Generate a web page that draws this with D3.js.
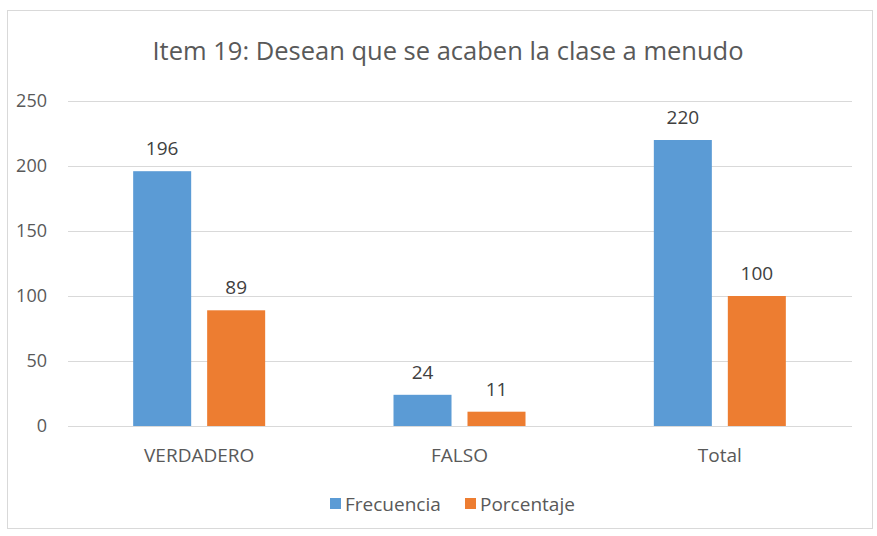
<!DOCTYPE html>
<html>
<head>
<meta charset="utf-8">
<script src="https://cdn.jsdelivr.net/npm/d3@7"></script>
<style>
body { margin: 0; background: #fff; }
text { font-family: "Open Sans", "Noto Sans", sans-serif; }
</style>
</head>
<body>
<svg width="877" height="536"></svg>
<script>
var svg = d3.select("svg"),
	width = +svg.attr("width"),
	height = +svg.attr("height")

const title = "Item 19: Desean que se acaben la clase a menudo"
const categories = ["VERDADERO", "FALSO", "Total"]
const seriesNames = ["Frecuencia", "Porcentaje"]
const frecuencia = [196, 24, 220]
const porcentaje = [89, 11, 100]
const yTicks = [0, 50, 100, 150, 200, 250]
const colors = ["#5b9bd5", "#ed7d31"]

const rows = categories.map((c, i) => ({ cat: c, vals: [frecuencia[i], porcentaje[i]] }))

// outer frame
svg.append("rect")
	.attr("x", 7.5).attr("y", 10.5)
	.attr("width", 865).attr("height", 518)
	.attr("fill", "#fff")
	.attr("stroke", "#d9d9d9")

var x = d3.scaleBand().domain(categories).range([69, 850])
var x1 = d3.scaleBand().domain(seriesNames).range([0, 132]).paddingInner(0.216)
var y = d3.scaleLinear().domain([0, 250]).range([426, 101])

// gridlines
svg.append("g")
	.selectAll("line")
	.data(yTicks)
	.enter()
	.append("line")
	.attr("x1", 68).attr("x2", 852)
	.attr("y1", d => y(d) + 0.5).attr("y2", d => y(d) + 0.5)
	.attr("stroke", "#d9d9d9")
	.attr("stroke-width", 1)

// y axis labels
svg.append("g")
	.selectAll("text")
	.data(yTicks)
	.enter()
	.append("text")
	.attr("x", 47)
	.attr("y", d => y(d))
	.attr("dy", "0.35em")
	.attr("text-anchor", "end")
	.attr("font-size", 18)
	.attr("fill", "#595959")
	.text(d => d)

// bars
var groups = svg.append("g")
	.selectAll("g")
	.data(rows)
	.enter()
	.append("g")
	.attr("transform", d => "translate(" + (x(d.cat) + (x.bandwidth() - 132) / 2) + ",0)")

groups.selectAll("rect")
	.data(d => d.vals.map((v, i) => ({ v: v, s: seriesNames[i], i: i })))
	.enter()
	.append("rect")
	.attr("x", d => x1(d.s))
	.attr("y", d => y(d.v))
	.attr("width", x1.bandwidth())
	.attr("height", d => y(0) - y(d.v))
	.attr("fill", d => colors[d.i])

groups.selectAll("text")
	.data(d => d.vals.map((v, i) => ({ v: v, s: seriesNames[i], i: i })))
	.enter()
	.append("text")
	.attr("x", d => x1(d.s) + x1.bandwidth() / 2)
	.attr("y", d => y(d.v) - 16)
	.attr("text-anchor", "middle")
	.attr("font-size", 19)
	.attr("fill", "#404040")
	.text(d => d.v)

// category labels
svg.append("g")
	.selectAll("text")
	.data(categories)
	.enter()
	.append("text")
	.attr("x", d => x(d) + x.bandwidth() / 2)
	.attr("y", 462)
	.attr("text-anchor", "middle")
	.attr("font-size", 19)
	.attr("fill", "#595959")
	.text(d => d)

// title
svg.append("text")
	.attr("x", 448)
	.attr("y", 60)
	.attr("text-anchor", "middle")
	.attr("font-size", 25.5)
	.attr("fill", "#595959")
	.text(title)

// legend
const legendX = [330, 465]
var legend = svg.append("g")
	.selectAll("g")
	.data(seriesNames)
	.enter()
	.append("g")
	.attr("transform", (d, i) => "translate(" + legendX[i] + ",498)")
legend.append("rect")
	.attr("width", 11).attr("height", 11)
	.attr("fill", (d, i) => colors[i])
legend.append("text")
	.attr("x", 15)
	.attr("y", 6)
	.attr("dy", "0.35em")
	.attr("font-size", 19)
	.attr("fill", "#595959")
	.text(d => d)
</script>
</body>
</html>
